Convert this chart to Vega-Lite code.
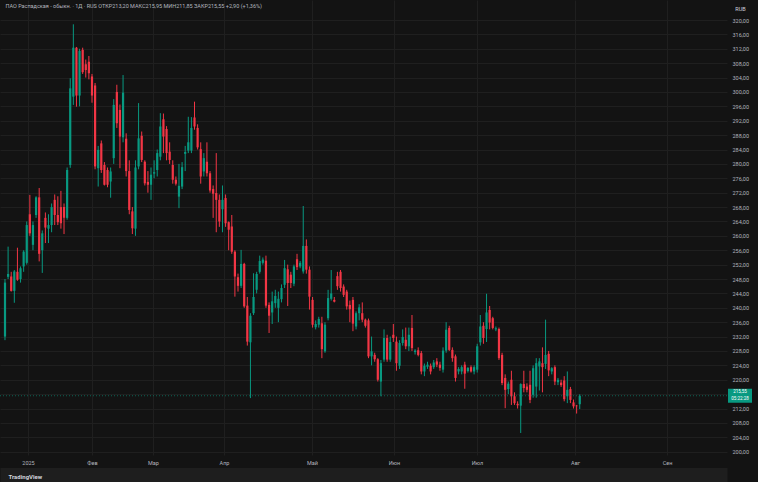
{
  "$schema": "https://vega.github.io/schema/vega-lite/v6.json",
  "width": 727,
  "height": 455,
  "autosize": "none",
  "padding": {"left": 0, "top": 0, "right": 31, "bottom": 27},
  "background": "#131313",
  "config": {
    "view": {"fill": "#131313", "stroke": null},
    "font": "Roboto",
    "title": {"fontWeight": "normal"},
    "axisY": {
      "orient": "right",
      "grid": true, "gridColor": "#1f1f1f", "gridWidth": 1,
      "ticks": false, "tickSize": 0, "domain": false,
      "labelColor": "#b2b5be", "labelFontSize": 5.5, "labelPadding": 5, "labelAlign": "left",
      "labelOverlap": false,
      "titleAngle": 0, "titleX": 13, "titleY": 8, "titleAlign": "center", "titleBaseline": "middle",
      "titleFontSize": 5.5, "titleFontWeight": "normal", "titleColor": "#d1d4dc"
    }
  },
  "title": {
    "text": "ПАО Распадская - обыкн. · 1Д · RUS   ОТКР213,20  МАКС215,95  МИН211,85  ЗАКР215,55  +2,90 (+1,36%)",
    "anchor": "start",
    "orient": "top",
    "offset": -13,
    "dx": 6,
    "fontSize": 5.5,
    "color": "#b2b5be",
    "baseline": "alphabetic"
  },
  "datasets": {
    "candles": [
      {"i":1,"o":232,"h":248,"l":231,"c":247},
      {"i":2,"o":248.6,"h":257,"l":248,"c":249.4},
      {"i":3,"o":248.7,"h":250,"l":244.5,"c":244.7},
      {"i":4,"o":244.7,"h":250.5,"l":241.4,"c":250.1},
      {"i":5,"o":250,"h":256.7,"l":247.5,"c":247.8},
      {"i":6,"o":248,"h":251.5,"l":247,"c":251},
      {"i":7,"o":251.5,"h":256,"l":250,"c":255.6},
      {"i":8,"o":252.5,"h":264,"l":252,"c":263},
      {"i":9,"o":266,"h":271.4,"l":260,"c":260.7},
      {"i":10,"o":257.5,"h":264,"l":256,"c":263},
      {"i":11,"o":265.8,"h":271,"l":265,"c":270.7},
      {"i":12,"o":270.7,"h":273.3,"l":252.9,"c":255},
      {"i":13,"o":256,"h":261.5,"l":249.7,"c":260.7},
      {"i":14,"o":265,"h":266.5,"l":258,"c":262.3},
      {"i":15,"o":262,"h":266,"l":258,"c":263},
      {"i":16,"o":263,"h":269,"l":261,"c":268},
      {"i":17,"o":270,"h":271.5,"l":263,"c":265.8},
      {"i":18,"o":265.8,"h":271,"l":263,"c":263.8},
      {"i":19,"o":268,"h":272.5,"l":262,"c":263.5},
      {"i":20,"o":268,"h":269,"l":260.5,"c":265},
      {"i":21,"o":265,"h":279,"l":264.5,"c":278.3},
      {"i":22,"o":279.7,"h":303.8,"l":278.9,"c":301},
      {"i":23,"o":298.7,"h":318.8,"l":296.4,"c":312.3},
      {"i":24,"o":312.3,"h":312.5,"l":295.9,"c":299},
      {"i":25,"o":299,"h":312,"l":296,"c":311.4},
      {"i":26,"o":311.7,"h":312.3,"l":305,"c":305.5},
      {"i":27,"o":307.7,"h":309,"l":304,"c":306.1},
      {"i":28,"o":308.4,"h":310,"l":303.5,"c":305.2},
      {"i":29,"o":304.3,"h":305,"l":297,"c":299},
      {"i":30,"o":301.8,"h":302.5,"l":278.5,"c":279.3},
      {"i":31,"o":278.8,"h":285,"l":273.7,"c":283.9},
      {"i":32,"o":285.7,"h":286.5,"l":277.5,"c":278.3},
      {"i":33,"o":279.7,"h":280.5,"l":274,"c":274.2},
      {"i":34,"o":278.3,"h":279,"l":273.5,"c":274.2},
      {"i":35,"o":275.1,"h":279,"l":270.6,"c":277.9},
      {"i":36,"o":281.6,"h":298,"l":280,"c":296.4},
      {"i":37,"o":300,"h":302,"l":290,"c":291.3},
      {"i":38,"o":295,"h":296.5,"l":278.8,"c":287.6},
      {"i":39,"o":287.4,"h":304.7,"l":286,"c":299.8},
      {"i":40,"o":287,"h":288.5,"l":276.5,"c":278},
      {"i":41,"o":278,"h":281,"l":266,"c":267.2},
      {"i":42,"o":266.8,"h":268,"l":260.5,"c":262.1},
      {"i":43,"o":262,"h":281,"l":260,"c":279},
      {"i":44,"o":279.3,"h":296.9,"l":278.5,"c":287.1},
      {"i":45,"o":287.8,"h":289,"l":280.5,"c":281.1},
      {"i":46,"o":280.6,"h":281,"l":274,"c":274.6},
      {"i":47,"o":275,"h":278,"l":272,"c":274.2},
      {"i":48,"o":274.2,"h":279,"l":270,"c":277},
      {"i":49,"o":277.3,"h":281,"l":276,"c":277.7},
      {"i":50,"o":278.3,"h":284,"l":276.5,"c":283},
      {"i":51,"o":282,"h":294.1,"l":281,"c":290.4},
      {"i":52,"o":292.4,"h":294,"l":283,"c":287.6},
      {"i":53,"o":289.7,"h":290.5,"l":281,"c":283},
      {"i":54,"o":283.4,"h":286,"l":280,"c":281.1},
      {"i":55,"o":279.7,"h":281,"l":274.5,"c":275.6},
      {"i":56,"o":275.6,"h":276.5,"l":274,"c":274.5},
      {"i":57,"o":270.9,"h":280,"l":267.7,"c":273.9},
      {"i":58,"o":273.7,"h":280.5,"l":273,"c":279.1},
      {"i":59,"o":282.8,"h":285,"l":278,"c":283.3},
      {"i":60,"o":283.7,"h":293.1,"l":283,"c":286},
      {"i":61,"o":283.7,"h":293,"l":283,"c":290},
      {"i":62,"o":292.9,"h":297.3,"l":289.5,"c":290.4},
      {"i":63,"o":290,"h":291,"l":284,"c":284.6},
      {"i":64,"o":284.1,"h":286,"l":274.5,"c":276.5},
      {"i":65,"o":277.9,"h":283,"l":276.5,"c":281.6},
      {"i":66,"o":280.6,"h":286,"l":276.5,"c":277.4},
      {"i":67,"o":277.4,"h":278,"l":272,"c":272.6},
      {"i":68,"o":273,"h":274,"l":265,"c":271.7},
      {"i":69,"o":271.9,"h":283,"l":261,"c":270},
      {"i":70,"o":270,"h":271.5,"l":262.5,"c":264},
      {"i":71,"o":267.4,"h":274,"l":261,"c":270},
      {"i":72,"o":270.5,"h":271.5,"l":262.5,"c":263.5},
      {"i":73,"o":263.8,"h":264,"l":256,"c":261.7},
      {"i":74,"o":262.6,"h":265.8,"l":255,"c":255.6},
      {"i":75,"o":255.6,"h":256,"l":243.1,"c":248.7},
      {"i":76,"o":248.5,"h":249.5,"l":244.5,"c":246.1},
      {"i":77,"o":246.1,"h":256.1,"l":245.5,"c":252.2},
      {"i":78,"o":252.2,"h":252.5,"l":240,"c":240.4},
      {"i":79,"o":240.6,"h":243,"l":229.5,"c":230.6},
      {"i":80,"o":230.4,"h":238.5,"l":214.9,"c":237.8},
      {"i":81,"o":238.5,"h":249.6,"l":238,"c":243},
      {"i":82,"o":245,"h":250,"l":244,"c":249.4},
      {"i":83,"o":250,"h":254.5,"l":249.5,"c":253},
      {"i":84,"o":252.5,"h":254,"l":252,"c":253.4},
      {"i":85,"o":253.1,"h":254.5,"l":240,"c":240.6},
      {"i":86,"o":240.8,"h":241.5,"l":233,"c":237.8},
      {"i":87,"o":238.7,"h":244.5,"l":235.5,"c":241.8},
      {"i":88,"o":241.3,"h":245,"l":240,"c":243.3},
      {"i":89,"o":240,"h":244.5,"l":236,"c":242.5},
      {"i":90,"o":242.4,"h":246.5,"l":241.5,"c":245.5},
      {"i":91,"o":246.4,"h":253.3,"l":245.5,"c":251},
      {"i":92,"o":250.7,"h":252,"l":240.5,"c":246.9},
      {"i":93,"o":249.2,"h":250,"l":245.5,"c":246.9},
      {"i":94,"o":246.7,"h":252,"l":246,"c":251.5},
      {"i":95,"o":253.5,"h":255,"l":250.5,"c":251.3},
      {"i":96,"o":251.5,"h":253,"l":251,"c":252.5},
      {"i":97,"o":250.1,"h":268.3,"l":249.5,"c":257.2},
      {"i":98,"o":257.2,"h":259,"l":249.5,"c":250.6},
      {"i":99,"o":250.6,"h":251.5,"l":239.5,"c":243.1},
      {"i":100,"o":242.2,"h":243,"l":234.5,"c":235.3},
      {"i":101,"o":234.6,"h":236.5,"l":234,"c":235.5},
      {"i":102,"o":235.3,"h":237.5,"l":234.5,"c":236.9},
      {"i":103,"o":235.7,"h":237.5,"l":226,"c":228.5},
      {"i":104,"o":227.9,"h":236,"l":227.5,"c":235.3},
      {"i":105,"o":237.1,"h":245,"l":236.5,"c":242.7},
      {"i":106,"o":242.5,"h":250.5,"l":242,"c":244},
      {"i":107,"o":242.2,"h":243,"l":241.5,"c":241.7},
      {"i":108,"o":248.8,"h":250,"l":245,"c":246},
      {"i":109,"o":250,"h":250.5,"l":244.5,"c":245.5},
      {"i":110,"o":245.9,"h":246.5,"l":243,"c":243.6},
      {"i":111,"o":244.5,"h":245,"l":239.5,"c":240.4},
      {"i":112,"o":240.8,"h":242,"l":236,"c":239.6},
      {"i":113,"o":242.2,"h":243,"l":233.5,"c":235.6},
      {"i":114,"o":234.8,"h":239,"l":234,"c":238.5},
      {"i":115,"o":238.5,"h":241,"l":236.5,"c":240.1},
      {"i":116,"o":238.5,"h":241.5,"l":236,"c":236.7},
      {"i":117,"o":236.7,"h":237,"l":234.5,"c":235},
      {"i":118,"o":236.5,"h":237,"l":226,"c":226.5},
      {"i":119,"o":226.5,"h":232,"l":224,"c":227.9},
      {"i":120,"o":226.9,"h":227.5,"l":225,"c":225.7},
      {"i":121,"o":225.7,"h":226,"l":219.5,"c":220},
      {"i":122,"o":219.5,"h":225.5,"l":215.4,"c":224.6},
      {"i":123,"o":225.6,"h":234,"l":225,"c":231.6},
      {"i":124,"o":231.6,"h":232.5,"l":225,"c":225.6},
      {"i":125,"o":225.6,"h":232,"l":225,"c":230.5},
      {"i":126,"o":232.5,"h":235.5,"l":230.5,"c":231.6},
      {"i":127,"o":230.6,"h":232,"l":222.5,"c":224.6},
      {"i":128,"o":223.9,"h":231,"l":223,"c":230.2},
      {"i":129,"o":230.2,"h":234,"l":229.5,"c":231.9},
      {"i":130,"o":231.1,"h":234.5,"l":228.5,"c":229.3},
      {"i":131,"o":229.3,"h":234.5,"l":228,"c":232.5},
      {"i":132,"o":234.4,"h":238,"l":228,"c":228.8},
      {"i":133,"o":227.7,"h":228.5,"l":227,"c":228.1},
      {"i":134,"o":228.2,"h":229,"l":226.5,"c":226.9},
      {"i":135,"o":227.4,"h":228,"l":221.5,"c":222.3},
      {"i":136,"o":222.3,"h":224.5,"l":221,"c":223.9},
      {"i":137,"o":223.6,"h":225,"l":223,"c":224.2},
      {"i":138,"o":223.9,"h":224.5,"l":221.5,"c":222.3},
      {"i":139,"o":223.5,"h":225.5,"l":223,"c":224.8},
      {"i":140,"o":225.1,"h":226,"l":223.5,"c":224.2},
      {"i":141,"o":224.2,"h":225,"l":222.5,"c":223.3},
      {"i":142,"o":222.8,"h":229,"l":222,"c":228.1},
      {"i":143,"o":228.1,"h":236,"l":227.5,"c":233.9},
      {"i":144,"o":234.4,"h":235,"l":228,"c":228.3},
      {"i":145,"o":228.3,"h":229,"l":225,"c":226},
      {"i":146,"o":226.5,"h":227,"l":219.5,"c":220.5},
      {"i":147,"o":222.3,"h":223.5,"l":221.5,"c":223},
      {"i":148,"o":222.3,"h":224,"l":221.5,"c":223.5},
      {"i":149,"o":224.2,"h":225,"l":217.5,"c":221.7},
      {"i":150,"o":222.4,"h":223.5,"l":222,"c":223.3},
      {"i":151,"o":223.5,"h":224,"l":222,"c":222.3},
      {"i":152,"o":222.3,"h":224,"l":221.5,"c":223.5},
      {"i":153,"o":222.8,"h":230,"l":222,"c":229.3},
      {"i":154,"o":230.4,"h":238,"l":229.5,"c":234.8},
      {"i":155,"o":235,"h":236,"l":230,"c":231.6},
      {"i":156,"o":234.1,"h":243.9,"l":230.5,"c":238.7},
      {"i":157,"o":239.4,"h":240.5,"l":234,"c":235.9},
      {"i":158,"o":237.1,"h":237.5,"l":234,"c":234.4},
      {"i":159,"o":234,"h":234.8,"l":233.5,"c":234.3},
      {"i":160,"o":234.1,"h":234.5,"l":225.5,"c":226},
      {"i":161,"o":226.9,"h":227.5,"l":218.5,"c":219.1},
      {"i":162,"o":220.5,"h":221.5,"l":212.1,"c":217.2},
      {"i":163,"o":217.4,"h":219.5,"l":216,"c":218.9},
      {"i":164,"o":220,"h":222.5,"l":213,"c":215.4},
      {"i":165,"o":215.4,"h":216.5,"l":213,"c":213.5},
      {"i":166,"o":213.3,"h":214,"l":212,"c":212.9},
      {"i":167,"o":212.8,"h":219,"l":205.2,"c":218.8},
      {"i":168,"o":218.8,"h":222.5,"l":216.5,"c":217.7},
      {"i":169,"o":218.1,"h":219,"l":216.5,"c":217.2},
      {"i":170,"o":218.6,"h":222.5,"l":213.5,"c":214.4},
      {"i":171,"o":215.8,"h":224,"l":215,"c":223.2},
      {"i":172,"o":218.1,"h":226,"l":215,"c":224.6},
      {"i":173,"o":223.7,"h":226,"l":217,"c":225.1},
      {"i":174,"o":224.6,"h":229,"l":216.5,"c":223.5},
      {"i":175,"o":224.4,"h":236.7,"l":223,"c":226.9},
      {"i":176,"o":227.2,"h":228,"l":221,"c":222.6},
      {"i":177,"o":222.3,"h":223.5,"l":221.5,"c":223.2},
      {"i":178,"o":223.5,"h":224,"l":218.5,"c":219.5},
      {"i":179,"o":219.3,"h":220.5,"l":218.5,"c":220},
      {"i":180,"o":219.2,"h":220,"l":218,"c":218.5},
      {"i":181,"o":219.8,"h":221,"l":214,"c":214.6},
      {"i":182,"o":215.4,"h":222.3,"l":213.5,"c":217.2},
      {"i":183,"o":217.4,"h":218,"l":213.5,"c":214.4},
      {"i":184,"o":213.7,"h":214.5,"l":212,"c":212.6},
      {"i":185,"o":212.8,"h":213,"l":210.6,"c":212.65},
      {"i":186,"o":213.2,"h":215.95,"l":211.85,"c":215.55}
    ],
    "last": [{"price": 215.55, "label": "215,55", "timer": "05:22:28"}]
  },
  "layer": [
    {
      "data": {"name": "candles"},
      "mark": {"type": "rule", "strokeWidth": 1},
      "encoding": {
        "x": {
          "field": "i", "type": "quantitative",
          "scale": {"domain": [-0.609, 233.4], "nice": false, "zero": false, "padding": 0},
          "axis": {
            "values": [8.4, 29, 48.6, 71.5, 99.8, 126.2, 152.9, 184.5, 214.1],
            "labelExpr": "datum.value < 10 ? '2025' : datum.value < 35 ? 'Фев' : datum.value < 60 ? 'Мар' : datum.value < 85 ? 'Апр' : datum.value < 110 ? 'Май' : datum.value < 140 ? 'Июн' : datum.value < 170 ? 'Июл' : datum.value < 200 ? 'Авг' : 'Сен'",
            "grid": true, "gridColor": "#1f1f1f", "gridWidth": 1,
            "ticks": false, "tickSize": 0,
            "domain": true, "domainColor": "#1e1e1e", "domainWidth": 14, "offset": 19.5,
            "labelColor": "#b2b5be", "labelFontSize": 5.5, "labelPadding": -12.5, "labelBaseline": "middle",
            "labelFlush": false, "labelOverlap": false,
            "title": "TradingView", "titleX": 8, "titleY": 1.5, "titleAlign": "left", "titleBaseline": "middle",
            "titleFontSize": 6, "titleFontWeight": "bold", "titleColor": "#d1d4dc"
          }
        },
        "y": {
          "field": "l", "type": "quantitative",
          "scale": {"domain": [199.08, 325.56], "nice": false, "zero": false, "padding": 0},
          "axis": {
            "values": [200,204,208,212,216,220,224,228,232,236,240,244,248,252,256,260,264,268,272,276,280,284,288,292,296,300,304,308,312,316,320],
            "labelExpr": "datum.value == 216 ? '' : replace(format(datum.value, '.2f'), '.', ',')",
            "title": "RUB"
          }
        },
        "y2": {"field": "h"},
        "color": {"condition": {"test": "datum.c >= datum.o", "value": "#089981"}, "value": "#f23645"}
      }
    },
    {
      "data": {"name": "candles"},
      "mark": {"type": "bar", "size": 2.2},
      "encoding": {
        "x": {"field": "i", "type": "quantitative"},
        "y": {
          "field": "o", "type": "quantitative",
          "axis": {
            "values": [200,204,208,212,216,220,224,228,232,236,240,244,248,252,256,260,264,268,272,276,280,284,288,292,296,300,304,308,312,316,320],
            "labelExpr": "datum.value == 216 ? '' : replace(format(datum.value, '.2f'), '.', ',')",
            "title": "RUB"
          }
        },
        "y2": {"field": "c"},
        "color": {"condition": {"test": "datum.c >= datum.o", "value": "#089981"}, "value": "#f23645"}
      }
    },
    {
      "data": {"name": "last"},
      "mark": {"type": "rule", "strokeDash": [1, 2], "strokeWidth": 1, "color": "#089981", "opacity": 0.6},
      "encoding": {
        "y": {
          "field": "price", "type": "quantitative",
          "axis": {
            "values": [200,204,208,212,216,220,224,228,232,236,240,244,248,252,256,260,264,268,272,276,280,284,288,292,296,300,304,308,312,316,320],
            "labelExpr": "datum.value == 216 ? '' : replace(format(datum.value, '.2f'), '.', ',')",
            "title": "RUB"
          }
        }
      }
    },
    {
      "data": {"name": "last"},
      "mark": {"type": "bar", "orient": "horizontal", "size": 14, "color": "#089981"},
      "encoding": {
        "x": {"datum": 233.72},
        "x2": {"datum": 241.45},
        "y": {
          "field": "price", "type": "quantitative",
          "axis": {
            "values": [200,204,208,212,216,220,224,228,232,236,240,244,248,252,256,260,264,268,272,276,280,284,288,292,296,300,304,308,312,316,320],
            "labelExpr": "datum.value == 216 ? '' : replace(format(datum.value, '.2f'), '.', ',')",
            "title": "RUB"
          }
        }
      }
    },
    {
      "data": {"name": "last"},
      "mark": {"type": "text", "color": "#ffffff", "fontSize": 4.5, "dy": -3.4},
      "encoding": {
        "x": {"datum": 237.59},
        "y": {
          "field": "price", "type": "quantitative",
          "axis": {
            "values": [200,204,208,212,216,220,224,228,232,236,240,244,248,252,256,260,264,268,272,276,280,284,288,292,296,300,304,308,312,316,320],
            "labelExpr": "datum.value == 216 ? '' : replace(format(datum.value, '.2f'), '.', ',')",
            "title": "RUB"
          }
        },
        "text": {"field": "label"}
      }
    },
    {
      "data": {"name": "last"},
      "mark": {"type": "text", "color": "#ffffff", "fontSize": 4.5, "dy": 3.6},
      "encoding": {
        "x": {"datum": 237.59},
        "y": {
          "field": "price", "type": "quantitative",
          "axis": {
            "values": [200,204,208,212,216,220,224,228,232,236,240,244,248,252,256,260,264,268,272,276,280,284,288,292,296,300,304,308,312,316,320],
            "labelExpr": "datum.value == 216 ? '' : replace(format(datum.value, '.2f'), '.', ',')",
            "title": "RUB"
          }
        },
        "text": {"field": "timer"}
      }
    }
  ]
}
